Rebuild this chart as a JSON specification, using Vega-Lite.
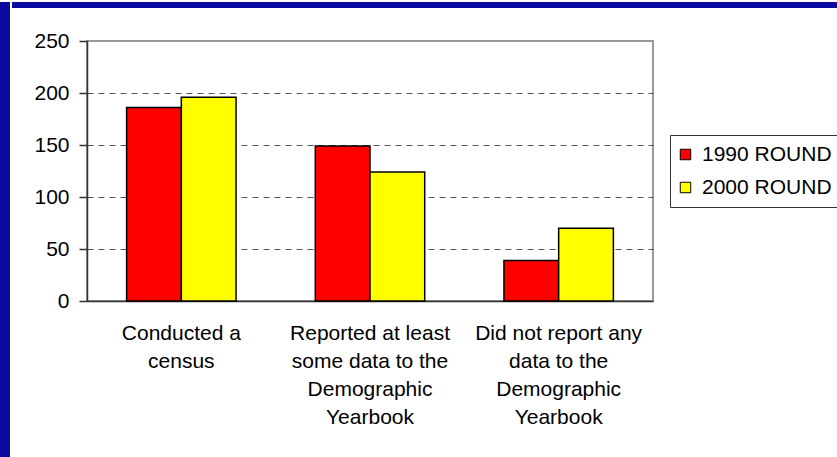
{
  "$schema": "https://vega.github.io/schema/vega-lite/v6.json",
  "background": "white",
  "padding": 0,
  "spacing": 0,
  "hconcat": [
    {
      "width": 10,
      "height": 457,
      "view": {"fill": "#0a0aa0", "stroke": null},
      "data": {"values": [{"frame": 1}]},
      "mark": {"type": "point", "opacity": 0},
      "encoding": {}
    },
    {
      "spacing": 19,
      "vconcat": [
        {
          "width": 752,
          "height": 6,
          "view": {"fill": "#0a0aa0", "stroke": null},
          "data": {"values": [{"frame": 1}]},
          "mark": {"type": "point", "opacity": 0},
          "encoding": {
            "y": {
              "field": "frame",
              "type": "quantitative",
              "scale": {"domain": [0, 2]},
              "axis": {
                "title": null,
                "values": [1],
                "labels": false,
                "domain": false,
                "grid": false,
                "ticks": true,
                "translate": 0,
                "tickSize": 72,
                "tickWidth": 6,
                "tickCap": "square",
                "tickColor": "#0a0aa0",
                "minExtent": 72,
                "maxExtent": 72
              }
            }
          }
        },
        {
          "width": 566,
          "height": 260,
          "view": {"stroke": "#999999", "strokeWidth": 2},
          "data": {
            "values": [
              {"category": "Conducted a|census", "round": "1990 ROUND", "value": 186},
              {"category": "Conducted a|census", "round": "2000 ROUND", "value": 196},
              {"category": "Reported at least|some data to the|Demographic|Yearbook", "round": "1990 ROUND", "value": 149},
              {"category": "Reported at least|some data to the|Demographic|Yearbook", "round": "2000 ROUND", "value": 124},
              {"category": "Did not report any|data to the|Demographic|Yearbook", "round": "1990 ROUND", "value": 39},
              {"category": "Did not report any|data to the|Demographic|Yearbook", "round": "2000 ROUND", "value": 70}
            ]
          },
          "mark": {"type": "bar", "stroke": "black", "strokeWidth": 1.5},
          "encoding": {
            "x": {
              "field": "category",
              "type": "nominal",
              "sort": null,
              "scale": {"paddingInner": 0.42, "paddingOuter": 0.21},
              "axis": {
                "title": null,
                "labelAngle": 0,
                "labelExpr": "split(datum.label, '|')",
                "labelLineHeight": 28.3,
                "labelPadding": 21,
                "ticks": false,
                "domainColor": "#333333",
                "domainWidth": 1.5,
                "labelFont": "Liberation Sans",
                "labelFontSize": 21,
                "labelColor": "black",
                "labelLimit": 400
              }
            },
            "xOffset": {
              "field": "round",
              "type": "nominal",
              "scale": {"paddingInner": 0, "paddingOuter": 0}
            },
            "y": {
              "field": "value",
              "type": "quantitative",
              "scale": {"domain": [0, 250], "nice": false},
              "axis": {
                "title": null,
                "values": [0, 50, 100, 150, 200, 250],
                "grid": true,
                "gridDash": [6, 5],
                "gridColor": "#555555",
                "gridWidth": 1,
                "gridOpacity": {"condition": {"test": "datum.value >= 250 || datum.value <= 0", "value": 0}, "value": 1},
                "domainColor": "#333333",
                "domainWidth": 1.5,
                "tickColor": "#333333",
                "tickWidth": 1.5,
                "tickSize": 8,
                "labelPadding": 10,
                "labelFont": "Liberation Sans",
                "labelFontSize": 21,
                "labelColor": "black",
                "minExtent": 74
              }
            },
            "color": {
              "field": "round",
              "type": "nominal",
              "scale": {"domain": ["1990 ROUND", "2000 ROUND"], "range": ["#ff0000", "#ffff00"]},
              "legend": {
                "title": null,
                "orient": "none",
                "legendX": 670,
                "legendY": 133,
                "symbolType": "square",
                "symbolSize": 110,
                "symbolStrokeColor": "black",
                "symbolStrokeWidth": 1,
                "symbolOpacity": 1,
                "symbolOffset": -4,
                "labelFont": "Liberation Sans",
                "labelFontSize": 21,
                "labelColor": "black",
                "labelOffset": 6,
                "rowPadding": 11,
                "padding": 9,
                "strokeColor": "#333333",
                "fillColor": "white",
                "labelLimit": 300
              }
            }
          }
        }
      ]
    }
  ]
}
